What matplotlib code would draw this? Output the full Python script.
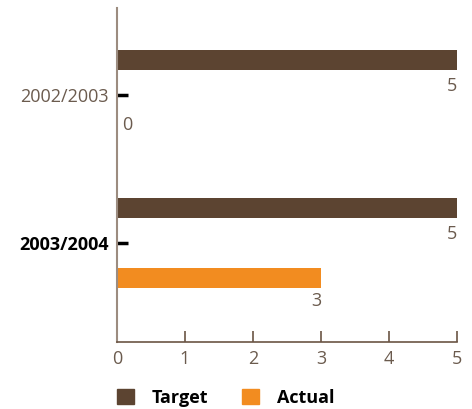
import matplotlib
matplotlib.use("Agg")
import matplotlib.pyplot as plt
from matplotlib.patches import Patch

categories = ["2003/2004", "2002/2003"]
target = [5, 5]
actual = [3, 0]
xticks = [0, 1, 2, 3, 4, 5]

c_target = "#5C4431"
c_actual = "#F28C20"
c_text = "#6B5B4E"
c_axis = "#6B5544"

plt.rcParams["font.family"] = ["Open Sans", "DejaVu Sans"]

fig = plt.figure(figsize=(4.72, 4.09), dpi=100)
W, H = 472, 409
ax = fig.add_axes([117 / W, 1 - 342 / H, (457 - 117) / W, (342 - 8) / H])

ypos = list(range(len(categories)))
off = 0.236
h = 0.135
ax.barh([y + off for y in ypos], target, height=h, color=c_target, zorder=2)
ax.barh([y - off for y in ypos], actual, height=h, color=c_actual, zorder=2)

fs = 13
for y, v in zip(ypos, target):
    ax.text(v, y + off - h / 2 - 0.05, str(v), ha="right", va="top",
            fontsize=fs, color=c_text)
for y, v in zip(ypos, actual):
    if v == 0:
        ax.text(0.07, y - off + 0.03, str(v), ha="left", va="center",
                fontsize=fs, color=c_text)
    else:
        ax.text(v, y - off - h / 2 - 0.03, str(v), ha="right", va="top",
                fontsize=fs, color=c_text)

ax.set_xlim(0, 5)
ax.set_ylim(-0.669, 1.588)
ax.set_yticks(ypos)
ax.set_yticklabels(categories)
for lbl, cat in zip(ax.get_yticklabels(), categories):
    if cat == "2003/2004":
        lbl.set_fontweight("bold")
        lbl.set_color("black")
    else:
        lbl.set_color(c_text)
    lbl.set_fontsize(fs)
ax.tick_params(axis="y", direction="in", length=8, width=2.5, color="black", pad=6)
ax.set_xticks(xticks)
ax.tick_params(axis="x", direction="in", length=8, width=1.2, color=c_axis,
               labelsize=fs, labelcolor=c_text, pad=6)
for s in ["top", "right"]:
    ax.spines[s].set_visible(False)
ax.spines["bottom"].set_color(c_axis)
ax.spines["bottom"].set_linewidth(1.2)
ax.spines["left"].set_color("#9C8C80")
ax.spines["left"].set_linewidth(1.5)

handles = [Patch(color=c_target, label="Target"), Patch(color=c_actual, label="Actual")]
leg = fig.legend(handles=handles, loc="lower left", bbox_to_anchor=(101 / W, -0.035),
                 ncol=2, frameon=False, handlelength=0.9, handleheight=0.9,
                 handletextpad=1.0, columnspacing=1.9,
                 prop={"weight": "bold", "size": fs})

fig.savefig("out.png", dpi=100)
